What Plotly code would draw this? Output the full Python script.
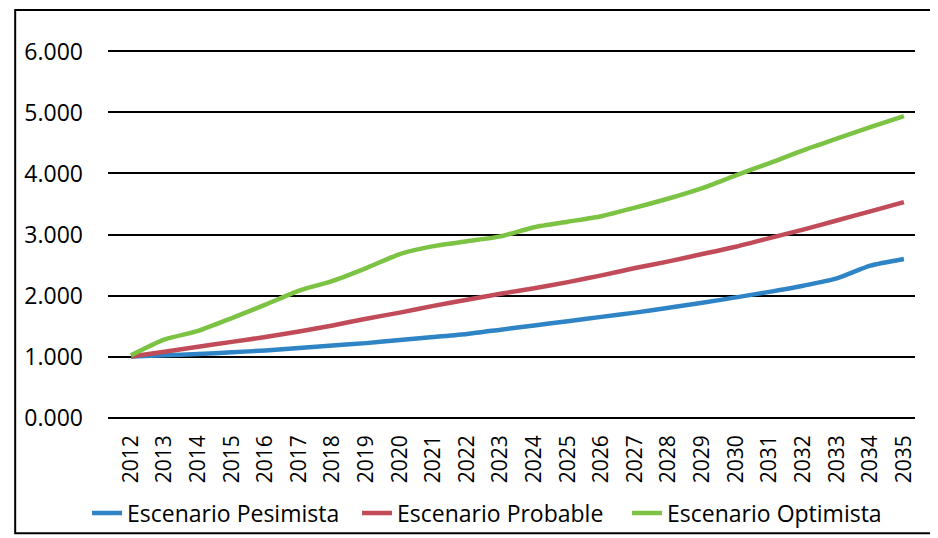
import plotly.graph_objects as go

# años del horizonte de proyección
years = list(range(2012, 2036))

# valores (escala 0.000 - 6.000)
pesimista = [1.00, 1.02, 1.04, 1.07, 1.10, 1.14, 1.18, 1.22, 1.27, 1.32, 1.37, 1.44,
             1.51, 1.58, 1.65, 1.72, 1.80, 1.88, 1.97, 2.06, 2.16, 2.28, 2.49, 2.60]
probable = [1.00, 1.08, 1.16, 1.24, 1.32, 1.41, 1.51, 1.62, 1.72, 1.83, 1.93, 2.03,
            2.12, 2.22, 2.33, 2.45, 2.56, 2.68, 2.80, 2.94, 3.08, 3.23, 3.38, 3.53]
optimista = [1.02, 1.28, 1.42, 1.63, 1.85, 2.08, 2.24, 2.45, 2.68, 2.81, 2.89, 2.97,
             3.12, 3.21, 3.30, 3.44, 3.59, 3.76, 3.97, 4.17, 4.38, 4.57, 4.76, 4.94]

y_ticks = [0, 1, 2, 3, 4, 5, 6]

series = [
    ("Escenario Pesimista", pesimista, "#2f84c6"),
    ("Escenario Probable", probable, "#c14b59"),
    ("Escenario Optimista", optimista, "#7cc243"),
]

fig = go.Figure()
for name, vals, color in series:
    fig.add_trace(go.Scatter(x=years, y=vals, name=name, mode="lines",
                             line=dict(color=color, width=4.5, shape="spline", smoothing=0.6)))

# la página deja 8px de margen, por eso 930x530
fig.update_layout(
    width=930, height=530,
    margin=dict(l=100, r=23, t=41, b=118, autoexpand=False),
    paper_bgcolor="white", plot_bgcolor="white",
    font=dict(family="Open Sans, DejaVu Sans", color="black"),
    showlegend=True,
    legend=dict(orientation="h", x=0.085, xanchor="left", xref="container",
                y=0.047, yanchor="middle", yref="container",
                bgcolor="rgba(0,0,0,0)",
                font=dict(size=23), entrywidth=225, tracegroupgap=0),
)

fig.update_xaxes(
    tickmode="array", tickvals=years, ticktext=[str(y) for y in years],
    tickangle=-90, tickfont=dict(size=21), range=[2011.315, 2035.33],
    ticklabelstandoff=10,
    showgrid=False, zeroline=False, showline=False, ticks="",
)
fig.update_yaxes(
    tickmode="array", tickvals=y_ticks, tickformat=".3f",
    range=[-0.04, 6.04], tickfont=dict(size=23), ticklabelstandoff=24,
    showgrid=True, gridcolor="black", gridwidth=1.6,
    zeroline=False, showline=False, ticks="",
)

# marco de la imagen
fig.add_shape(type="rect", xref="paper", yref="paper", x0=-0.115, x1=1.024, y0=-0.305, y1=1.105,
              line=dict(color="black", width=2))

fig.write_html("out.html")
